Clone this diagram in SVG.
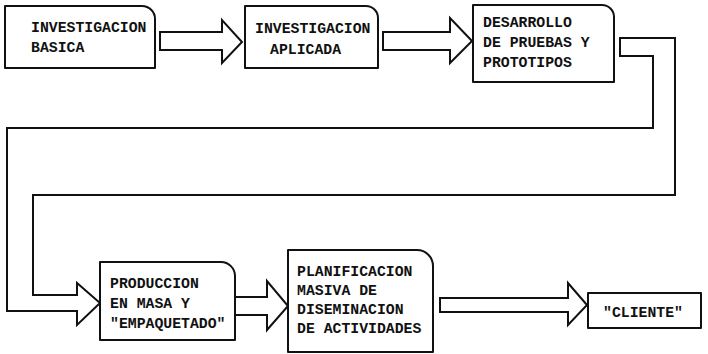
<svg xmlns="http://www.w3.org/2000/svg" width="708" height="354" viewBox="0 0 708 354">
<style>
.box{fill:#fff;stroke:#111;stroke-width:2;stroke-linejoin:round}
.arr{fill:#fff;stroke:#111;stroke-width:2;stroke-linejoin:miter}
text{font-family:"Liberation Mono","DejaVu Sans Mono",monospace;font-size:14.8px;font-weight:bold;fill:#111}
</style>
<rect width="708" height="354" fill="#fff"/>
<g id="connectors">
<polygon class="arr" points="160,32 222,32 222,20 242,42 222,63 222,50 160,50"/>
<polygon class="arr" points="383,32 450,32 450,18 472,41 450,63 450,50 383,50"/>
<polygon class="arr" points="620,38 675,38 675,195 33,195 33,295 77,295 77,283 100,303 77,325 77,311 7,311 7,128 653,128 653,56 620,56"/>
<polygon class="arr" points="235,297 267,297 267,281 288,306 267,330 267,315 235,315"/>
<polygon class="arr" points="440,298 568,298 568,283 587,305 568,325 568,312 440,312"/>
</g>
<g id="n1">
<path class="box" d="M5,6 H142 A13,13 0 0 1 155,19 V68 H5 Z"/>
<text x="31" y="32">INVESTIGACION</text>
<text x="31" y="52">BASICA</text>
</g>
<g id="n2">
<path class="box" d="M245,6 H366 A12,12 0 0 1 378,18 V68 H245 Z"/>
<text x="255" y="33">INVESTIGACION</text>
<text x="270" y="54">APLICADA</text>
</g>
<g id="n3">
<path class="box" d="M473,5 H602 A12,12 0 0 1 614,17 V82 H473 Z"/>
<text x="483" y="27">DESARROLLO</text>
<text x="483" y="47">DE PRUEBAS Y</text>
<text x="483" y="67">PROTOTIPOS</text>
</g>
<g id="n4">
<path class="box" d="M100,262 H221 A14,14 0 0 1 235,276 V340 H100 Z"/>
<text x="110" y="288">PRODUCCION</text>
<text x="110" y="308">EN MASA Y</text>
<text x="110" y="328">"EMPAQUETADO"</text>
</g>
<g id="n5">
<path class="box" d="M288,250 H417 A16,16 0 0 1 433,266 V352 H288 Z"/>
<text x="297" y="276">PLANIFICACION</text>
<text x="297" y="295">MASIVA DE</text>
<text x="297" y="314">DISEMINACION</text>
<text x="297" y="333">DE ACTIVIDADES</text>
</g>
<g id="n6">
<rect class="box" x="588" y="293" width="113" height="35"/>
<text x="603" y="317">"CLIENTE"</text>
</g>
</svg>
